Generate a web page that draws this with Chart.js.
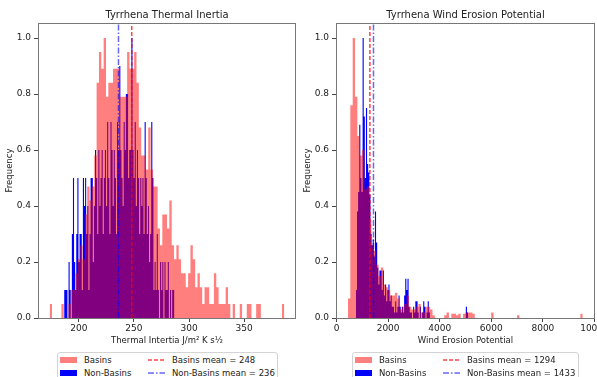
<!DOCTYPE html>
<html>
<head>
<meta charset="utf-8">
<title>Tyrrhena histograms</title>
<script src="https://cdn.jsdelivr.net/npm/chart.js@4.4.1/dist/chart.umd.min.js"></script>
<style>
  html, body { margin: 0; padding: 0; background: #fff; overflow: hidden; }
  body { position: relative; width: 597px; height: 377px; font-family: 'DejaVu Sans', sans-serif; }
  canvas { position: absolute; top: 0; }
  #tiChart { left: 0; }
  #wepChart { left: 298px; }
  .legend { position: absolute; top: 352px; height: 34px; box-sizing: border-box;
    border: 1px solid #d4d4d4; border-radius: 3px; background: rgba(255, 255, 255, 0.8);
    font-size: 8.5px; color: #222; }
  .legend .row { position: absolute; left: 0; right: 0; height: 12px; }
  .legend .swatch { position: absolute; top: 3px; width: 17px; height: 6px; }
  .legend svg { position: absolute; top: 0; width: 17px; height: 12px; }
  .legend .label { position: absolute; top: 0; line-height: 12px; white-space: nowrap; }
</style>
</head>
<body>
<canvas id="tiChart" width="300" height="352"></canvas>
<canvas id="wepChart" width="320" height="352"></canvas>
<div class="legend" id="tiLegend" style="left:57px; width:221px;"></div>
<div class="legend" id="wepLegend" style="left:352px; width:227px;"></div>
<script>
// Thermal inertia: normalised histogram heights (100 bins each)
const tiBasinStart = 173.6;
const tiBasinWidth = 2.128;
const tiBasins = [
  0.05, 0, 0, 0, 0, 0.05, 0, 0, 0.05, 0.1,
  0.1, 0.16, 0.21, 0.26, 0.21, 0.37, 0.47, 0.42, 0.47, 0.58,
  0.84, 0.95, 0.89, 1.0, 0.79, 0.84, 0.84, 0.89, 0.89, 0.89,
  0.79, 0.79, 0.79, 0.95, 0.89, 0.89, 0.95, 0.84, 0.68, 0.58,
  0.58, 0.53, 0.68, 0.53, 0.47, 0.47, 0.32, 0.26, 0.37, 0.37,
  0.32, 0.42, 0.26, 0.21, 0.26, 0.21, 0.16, 0.16, 0.11, 0.16,
  0.26, 0.21, 0.11, 0.16, 0.11, 0.05, 0.11, 0.11, 0.05, 0.05,
  0.16, 0.11, 0.05, 0.05, 0.05, 0.11, 0.05, 0, 0.05, 0,
  0, 0.05, 0, 0, 0.05, 0.05, 0, 0, 0.05, 0.05,
  0, 0, 0, 0, 0, 0, 0, 0, 0, 0.05
];
const tiNonBasinStart = 186.7;
const tiNonBasinWidth = 1.0;
const tiNonBasins = [
  0.1, 0.1, 0.1, 0, 0.2, 0.1, 0, 0.3, 0.5, 0.2,
  0.1, 0.3, 0.5, 0.2, 0.3, 0.3, 0.1, 0.5, 0.4, 0.5,
  0.3, 0.4, 0.1, 0.3, 0.5, 0.5, 0.2, 0.4, 0.6, 0.5,
  0.3, 0.6, 0.4, 0.5, 0.6, 0.3, 0.5, 0.6, 0.4, 0.7,
  0.5, 0.3, 0.7, 0.6, 0.4, 0.6, 0.5, 0.3, 0.7, 0.6,
  0.9, 0.6, 0.5, 0.4, 0.7, 0.6, 0.8, 0.8, 0.5, 0.6,
  0.6, 1.0, 0.6, 0.5, 0.7, 0.4, 0.6, 0.5, 0.3, 0.5,
  0.4, 0.5, 0.3, 0.7, 0.5, 0.3, 0.4, 0.2, 0.3, 0.7,
  0.5, 0.1, 0.2, 0.1, 0.3, 0.1, 0, 0.2, 0.1, 0.2,
  0, 0.2, 0.1, 0.1, 0.2, 0, 0.1, 0, 0.1, 0.1
];
const tiMeans = [248, 236];
const tiRange = [163, 397];
const tiTicks = [200, 250, 300, 350];

// Wind erosion potential
const wepBasinStart = 445;
const wepBasinWidth = 91;
const wepBasins = [
  0.07, 0.76, 1.0, 0.79, 0.65, 0.58, 0.6, 0.46, 0.47, 0.35,
  0.26, 0.24, 0.19, 0.15, 0.18, 0.12, 0.11, 0.1, 0.08, 0.08,
  0.09, 0.07, 0.03, 0.04, 0.05, 0.08, 0.04, 0.03, 0.03, 0.04,
  0.05, 0.02, 0.02, 0.04, 0.04, 0.03, 0.01, 0, 0, 0,
  0, 0.01, 0.02, 0, 0.015, 0.015, 0.01, 0.015, 0, 0.015,
  0.02, 0.02, 0.02, 0.015, 0, 0, 0, 0, 0, 0,
  0, 0.02, 0, 0, 0, 0, 0, 0, 0, 0,
  0, 0, 0.01, 0, 0, 0, 0, 0, 0, 0,
  0, 0, 0, 0, 0, 0, 0, 0, 0, 0,
  0, 0, 0, 0, 0, 0, 0, 0, 0, 0.015
];
const wepNonBasinStart = 750;
const wepNonBasinWidth = 43.5;
const wepNonBasins = [
  0.1, 0.38, 0.45, 0.69, 0.5, 0.45, 1.0, 0.72, 0.5, 0.75,
  0.55, 0.52, 0.44, 0.3, 0.26, 0.28, 0.22, 0.38, 0.27, 0.18,
  0.12, 0.17, 0.17, 0.1, 0.17, 0.08, 0.12, 0.06, 0.1, 0.12,
  0.06, 0.08, 0.04, 0.04, 0.02, 0.06, 0.02, 0.04, 0.08, 0.04,
  0.02, 0.04, 0.02, 0.08, 0.14, 0.1, 0.14, 0.04, 0.02, 0.02,
  0, 0.04, 0.02, 0.06, 0.06, 0.02, 0, 0.04, 0, 0.02,
  0.06, 0.04, 0, 0.02, 0.06, 0.02, 0, 0, 0, 0,
  0, 0, 0, 0, 0, 0, 0, 0, 0, 0,
  0, 0, 0, 0, 0, 0, 0, 0, 0, 0,
  0, 0, 0, 0, 0, 0, 0, 0, 0.04, 0.02
];
const wepMeans = [1294, 1433];
const wepRange = [-20, 10020];
const wepTicks = [0, 2000, 4000, 6000, 8000, 10000];

const yTicks = [0, 0.2, 0.4, 0.6, 0.8, 1.0];
const Y_TOP = 1.0536;
const TEXT = '#222';
const RED_FILL = 'rgba(255, 0, 0, 0.5)';
const BLUE_FILL = '#0000ff';
const RED_LINE = 'rgba(255, 0, 0, 0.75)';
const BLUE_LINE = 'rgba(0, 0, 255, 0.6)';
const RED_DASH = [4, 2];
const BLUE_DASH = [6, 2, 1.5, 2];

Chart.defaults.font.family = "'DejaVu Sans', sans-serif";
Chart.defaults.color = TEXT;

// histogram heights -> step outline points at the bin edges
function toSteps(start, width, heights) {
  const pts = heights.map((h, i) => ({ x: start + width * i, y: h }));
  pts.push({ x: start + width * heights.length, y: heights[heights.length - 1] });
  return pts;
}

function histogram(label, start, width, heights, color, order) {
  return {
    label: label,
    data: toSteps(start, width, heights),
    stepped: true,
    fill: 'origin',
    backgroundColor: color,
    borderColor: 'transparent',
    borderWidth: 0,
    pointRadius: 0,
    order: order
  };
}

function meanLine(label, value, color, dash) {
  return {
    label: label,
    data: [{ x: value, y: 0 }, { x: value, y: Y_TOP }],
    borderColor: color,
    borderWidth: 1.5,
    borderDash: dash,
    pointRadius: 0,
    fill: false,
    order: 0
  };
}

function setTicks(values) {
  return s => { s.ticks = values.map(v => ({ value: v })); };
}

// axes box on all four sides
const framePlugin = {
  id: 'frame',
  afterDatasetsDraw(chart) {
    const { ctx, chartArea: a } = chart;
    ctx.save();
    ctx.strokeStyle = '#777';
    ctx.lineWidth = 1;
    ctx.strokeRect(a.left + 0.5, a.top + 0.5, a.right - a.left - 1, a.bottom - a.top);
    ctx.restore();
  }
};

function makeChart(canvasId, cfg) {
  return new Chart(document.getElementById(canvasId), {
    type: 'line',
    data: {
      datasets: [
        meanLine(`Basins mean = ${cfg.means[0]}`, cfg.means[0], RED_LINE, RED_DASH),
        meanLine(`Non-Basins mean = ${cfg.means[1]}`, cfg.means[1], BLUE_LINE, BLUE_DASH),
        histogram('Basins', cfg.basinStart, cfg.basinWidth, cfg.basins, RED_FILL, 1),
        histogram('Non-Basins', cfg.nonBasinStart, cfg.nonBasinWidth, cfg.nonBasins, BLUE_FILL, 2)
      ]
    },
    options: {
      responsive: false,
      animation: false,
      events: [],
      layout: { padding: { left: 0, right: cfg.padRight, top: 0, bottom: 0 } },
      plugins: {
        legend: { display: false },
        tooltip: { enabled: false },
        title: {
          display: true, fullSize: false, text: cfg.title, color: TEXT,
          font: { size: 10, weight: 'normal' }, padding: { top: 9, bottom: 2 }
        }
      },
      scales: {
        x: {
          type: 'linear', min: cfg.range[0], max: cfg.range[1], offset: false,
          grid: { drawOnChartArea: false, offset: false, tickLength: 4, tickColor: '#444' },
          border: { display: false },
          afterBuildTicks: setTicks(cfg.ticks),
          ticks: { autoSkip: false, maxRotation: 0, padding: 1, font: { size: 9 }, callback: v => String(v) },
          title: { display: true, text: cfg.xTitle, font: { size: 8.5 }, padding: { top: 0, bottom: 6 } },
          afterFit: s => { s.height = 34; }
        },
        y: {
          type: 'linear', min: 0, max: Y_TOP,
          grid: { drawOnChartArea: false, tickLength: 4, tickColor: '#444' },
          border: { display: false },
          afterBuildTicks: setTicks(yTicks),
          ticks: { padding: 3, font: { size: 9 }, callback: v => v.toFixed(1) },
          title: { display: true, text: 'Frequency', font: { size: 8.5 }, padding: { top: 5, bottom: 0 } },
          afterFit: s => { s.width = 38; }
        }
      }
    },
    plugins: [framePlugin]
  });
}

function buildLegend(el, means) {
  const rows = [
    { patch: RED_FILL, name: 'Basins', line: RED_LINE, dash: RED_DASH, mean: `Basins mean = ${means[0]}` },
    { patch: BLUE_FILL, name: 'Non-Basins', line: BLUE_LINE, dash: BLUE_DASH, mean: `Non-Basins mean = ${means[1]}` }
  ];
  rows.forEach((r, i) => {
    const row = document.createElement('div');
    row.className = 'row';
    row.style.top = (1 + i * 12.5) + 'px';
    row.innerHTML = `
      <span class="swatch" style="left:2px; background:${r.patch}"></span>
      <span class="label" style="left:26px">${r.name}</span>
      <svg style="left:90px" viewBox="0 0 17 12"><line x1="0" y1="6" x2="17" y2="6" stroke="${r.line}" stroke-width="1.5" stroke-dasharray="${r.dash.join(' ')}"/></svg>
      <span class="label" style="left:114px">${r.mean}</span>`;
    el.appendChild(row);
  });
}

makeChart('tiChart', {
  title: 'Tyrrhena Thermal Inertia',
  xTitle: 'Thermal Intertia J/m² K s½',
  basinStart: tiBasinStart, basinWidth: tiBasinWidth, basins: tiBasins,
  nonBasinStart: tiNonBasinStart, nonBasinWidth: tiNonBasinWidth, nonBasins: tiNonBasins,
  means: tiMeans, range: tiRange, ticks: tiTicks, padRight: 4
});

makeChart('wepChart', {
  title: 'Tyrrhena Wind Erosion Potential',
  xTitle: 'Wind Erosion Potential',
  basinStart: wepBasinStart, basinWidth: wepBasinWidth, basins: wepBasins,
  nonBasinStart: wepNonBasinStart, nonBasinWidth: wepNonBasinWidth, nonBasins: wepNonBasins,
  means: wepMeans, range: wepRange, ticks: wepTicks, padRight: 23
});

buildLegend(document.getElementById('tiLegend'), tiMeans);
buildLegend(document.getElementById('wepLegend'), wepMeans);
</script>
</body>
</html>
